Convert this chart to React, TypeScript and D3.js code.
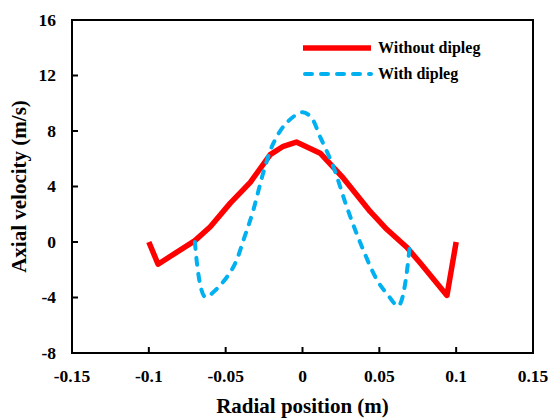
import React from "react";
import * as d3 from "d3";

// Radial profiles of axial velocity
const withoutDiplegX = [-0.1, -0.094, -0.07, -0.06, -0.047, -0.034, -0.021, -0.0125, -0.004, 0.0115, 0.0266, 0.044, 0.055, 0.068, 0.0765, 0.094, 0.1];
const withoutDiplegY = [0, -1.6, 0.1, 1.1, 2.8, 4.3, 6.3, 6.9, 7.2, 6.4, 4.6, 2.2, 0.9, -0.4, -1.5, -3.85, 0];

const withDiplegX = [-0.07, -0.0635, -0.056, -0.045, -0.0376, -0.032, -0.0255, -0.019, -0.0103, 0, 0.0055, 0.0114, 0.02, 0.0286, 0.0374, 0.0483, 0.0548, 0.0625, 0.07];
const withDiplegY = [0, -3.95, -3.4, -1.8, 0.4, 2.3, 5.0, 7.1, 8.6, 9.35, 9.0, 7.6, 5.45, 2.6, 0, -2.7, -3.7, -4.6, 0];

const xTicks = [-0.15, -0.1, -0.05, 0, 0.05, 0.1, 0.15];
const xTickLabels = ["-0.15", "-0.1", "-0.05", "0", "0.05", "0.1", "0.15"];
const yTicks = [-8, -4, 0, 4, 8, 12, 16];
const yTickLabels = ["-8", "-4", "0", "4", "8", "12", "16"];

const seriesNames = ["Without dipleg", "With dipleg"];

const W = 550;
const H = 419;
const margin = { left: 72, top: 20, right: 17, bottom: 66 };
const FONT = "Liberation Serif, Times New Roman, serif";
const RED = "#ff0000";
const BLUE = "#00b0f0";

export default function App() {
  const x = d3.scaleLinear().domain([-0.15, 0.15]).range([margin.left, W - margin.right]);
  const y = d3.scaleLinear().domain([-8, 16]).range([H - margin.bottom, margin.top]);

  const redPts: [number, number][] = withoutDiplegX.map((v, i) => [v, withoutDiplegY[i]]);
  const bluePts: [number, number][] = withDiplegX.map((v, i) => [v, withDiplegY[i]]);

  const redLine = d3.line<[number, number]>().x((d) => x(d[0])).y((d) => y(d[1]));
  const blueLine = d3
    .line<[number, number]>()
    .x((d) => x(d[0]))
    .y((d) => y(d[1]))
    .curve(d3.curveCatmullRom.alpha(0.5));

  const x0 = margin.left;
  const x1 = W - margin.right;
  const y0 = H - margin.bottom;
  const y1 = margin.top;
  const tick = 6;
  const txt = { fontFamily: FONT, fontWeight: 700 } as React.CSSProperties;

  return (
    <svg
      width={W}
      height={H}
      style={{ position: "absolute", left: 0, top: 0, background: "#fff", fontFamily: FONT, fontWeight: 700 }}
    >
      {/* data */}
      <path d={redLine(redPts) ?? ""} fill="none" stroke={RED} strokeWidth={5.5} strokeLinejoin="round" />
      <path
        d={blueLine(bluePts) ?? ""}
        fill="none"
        stroke={BLUE}
        strokeWidth={4}
        strokeDasharray="7,9"
        strokeLinecap="round"
        strokeLinejoin="round"
      />

      {/* frame */}
      <rect x={x0} y={y1} width={x1 - x0} height={y0 - y1} fill="none" stroke="#000" strokeWidth={2} />

      {/* x ticks */}
      {xTicks.map((t, i) => (
        <g key={"x" + i}>
          <line x1={x(t)} x2={x(t)} y1={y0} y2={y0 - tick} stroke="#000" strokeWidth={2} />
          <text x={x(t)} y={y0 + 28.5} textAnchor="middle" fontSize={17.5} style={txt}>
            {xTickLabels[i]}
          </text>
        </g>
      ))}

      {/* y ticks */}
      {yTicks.map((t, i) => (
        <g key={"y" + i}>
          <line x1={x0} x2={x0 + tick} y1={y(t)} y2={y(t)} stroke="#000" strokeWidth={2} />
          <text x={x0 - 16} y={y(t)} dy="0.34em" textAnchor="end" fontSize={17.5} style={txt}>
            {yTickLabels[i]}
          </text>
        </g>
      ))}

      {/* axis titles */}
      <text x={(x0 + x1) / 2} y={413} textAnchor="middle" fontSize={21} style={txt}>
        Radial position (m)
      </text>
      <text transform={`translate(26,${(y0 + y1) / 2}) rotate(-90)`} textAnchor="middle" fontSize={21} style={txt}>
        Axial velocity (m/s)
      </text>

      {/* legend */}
      <line x1={303} x2={371} y1={48} y2={48} stroke={RED} strokeWidth={5.5} />
      <text x={378} y={48} dy="0.34em" fontSize={16} style={txt}>
        {seriesNames[0]}
      </text>
      <line x1={305} x2={371} y1={74} y2={74} stroke={BLUE} strokeWidth={4} strokeDasharray="7,9" strokeLinecap="round" />
      <text x={378} y={74} dy="0.34em" fontSize={16} style={txt}>
        {seriesNames[1]}
      </text>
    </svg>
  );
}
